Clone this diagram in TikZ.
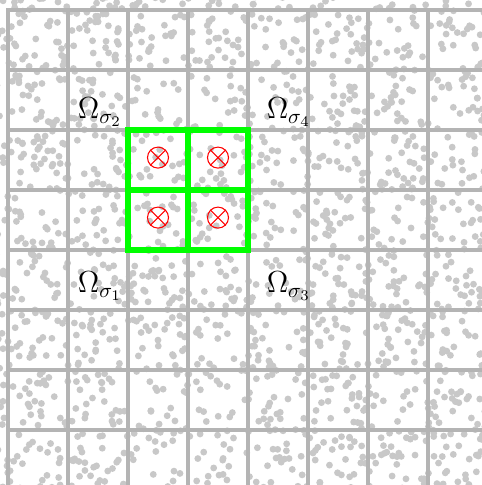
\documentclass[tikz,border=0pt]{standalone}
\usepackage{xcolor}
\usetikzlibrary{positioning}
\definecolor{gridgray}{RGB}{180,180,180}
\definecolor{dotgray}{RGB}{200,200,200}
\definecolor{blockgreen}{RGB}{0,255,0}
\begin{document}
\begin{tikzpicture}[
    cellline/.style={draw=gridgray, line width=2.2pt, line cap=rect},
    blockline/.style={draw=blockgreen, line width=2.9pt, line cap=rect},
    otimes/.style={circle, draw=red, line width=0.5pt, inner sep=0pt, minimum size=0.35cm},
    omlabel/.style={font=\Large, inner sep=0pt}
  ]
        \useasboundingbox (-0.1333,0.0833) rectangle (7.9,8.1667);
        \clip (-0.1333,0.0833) rectangle (7.9,8.1667);

        % Punti casuali
        \pgfmathsetseed{42}
        \foreach \k in {1,...,1800} {
            \fill[dotgray] ({-0.2+8.2*rnd},{8.3*rnd}) circle (0.057);
        }

        % Griglia
        \foreach \i in {0,...,7}
            \draw[cellline] (\i,0) -- (\i,8);
        \foreach \j in {1,...,8}
            \draw[cellline] (0,\j) -- (8,\j);

        % Blocco verde
        \draw[blockline] (2,4) grid (4,6);

        % Croci cerchiate
        \foreach \x/\y/\n in {2.5/5.54/a, 3.5/5.54/b, 2.5/4.54/c, 3.5/4.54/d} {
            \node[otimes] (x\n) at (\x,\y) {};
            \draw[red, line width=0.5pt] (x\n.45) -- (x\n.225) (x\n.135) -- (x\n.315);
        }

        % Etichette
        \node[omlabel] (om2) at (1.53,6.3) {$\Omega_{\sigma_2}$};
        \node[omlabel] (om4) at (4.68,6.3) {$\Omega_{\sigma_4}$};
        \node[omlabel] (om1) at (1.53,3.4) {$\Omega_{\sigma_1}$};
        \node[omlabel] (om3) at (4.68,3.4) {$\Omega_{\sigma_3}$};
    \end{tikzpicture}
\end{document}
